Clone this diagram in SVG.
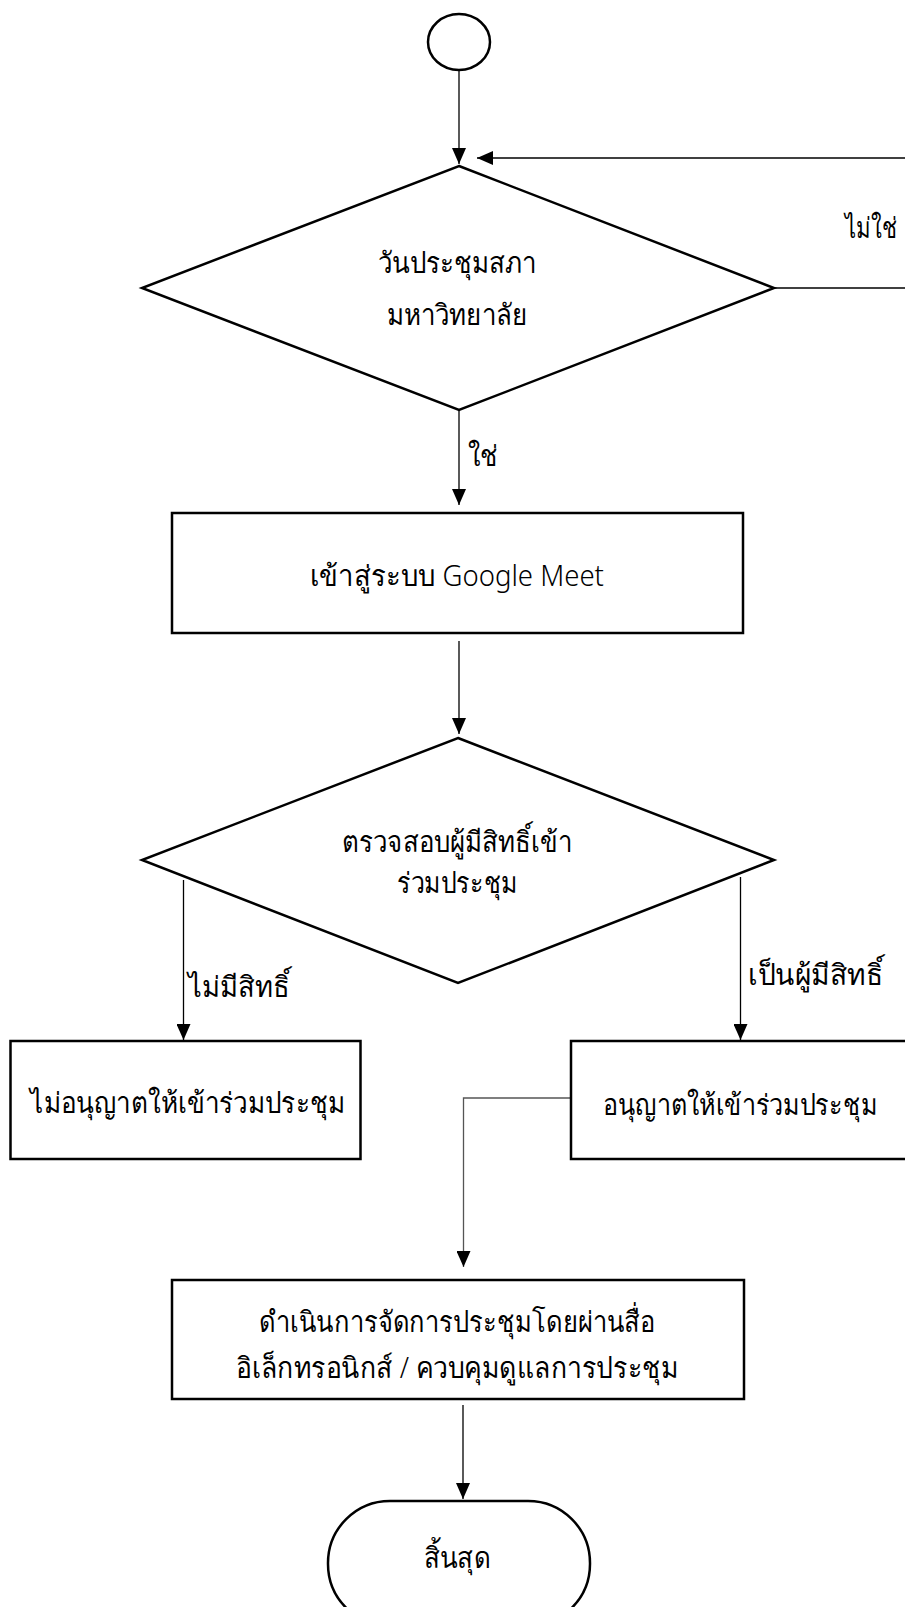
<svg xmlns="http://www.w3.org/2000/svg" width="905" height="1607" viewBox="0 0 905 1607">
<style>
.shape{fill:#fff;stroke:#000;stroke-width:2.5}
.conn{fill:none;stroke:#000;stroke-width:1.3}
.gray{stroke:#555}
text{font-family:"Noto Sans","DejaVu Sans",sans-serif;font-size:29px;font-weight:300;fill:#000;text-anchor:middle}
.lbl-l{text-anchor:start}
</style>
<defs>
<marker id="ah" markerUnits="userSpaceOnUse" markerWidth="16" markerHeight="14" refX="16" refY="7" orient="auto">
<path d="M0,0 L16,7 L0,14 z" fill="#000"/>
</marker>
</defs>
<g id="connectors">
<path class="conn" d="M459,71 V164" marker-end="url(#ah)"/>
<path class="conn" d="M774,288 H905"/>
<path class="conn" d="M905,158 H477" marker-end="url(#ah)"/>
<path class="conn" d="M459,410 V505" marker-end="url(#ah)"/>
<path class="conn" d="M459,641 V734" marker-end="url(#ah)"/>
<path class="conn" d="M183.5,880 V1040" marker-end="url(#ah)"/>
<path class="conn" d="M740.5,877 V1040" marker-end="url(#ah)"/>
<path class="conn gray" d="M571,1098 H463.5 V1267" marker-end="url(#ah)"/>
<path class="conn" d="M463,1405 V1499" marker-end="url(#ah)"/>
<text class="lbl-l" x="845" y="238" textLength="52" lengthAdjust="spacingAndGlyphs">ไม่ใช่</text>
<text class="lbl-l" x="468" y="466" textLength="30" lengthAdjust="spacingAndGlyphs">ใช่</text>
<text class="lbl-l" x="188" y="997" textLength="102" lengthAdjust="spacingAndGlyphs">ไม่มีสิทธิ์</text>
<text class="lbl-l" x="748" y="985" textLength="135" lengthAdjust="spacingAndGlyphs">เป็นผู้มีสิทธิ์</text>
</g>
<g id="start">
<ellipse class="shape" cx="459" cy="42" rx="31" ry="28"/>
</g>
<g id="decision1">
<polygon class="shape" points="459,166 774,288 459,410 142,288"/>
<text x="457" y="273" textLength="159" lengthAdjust="spacingAndGlyphs">วันประชุมสภา</text>
<text x="457" y="325" textLength="140" lengthAdjust="spacingAndGlyphs">มหาวิทยาลัย</text>
</g>
<g id="login">
<rect class="shape" x="172" y="513" width="571" height="120"/>
<text x="457" y="586" textLength="294" lengthAdjust="spacingAndGlyphs">เข้าสู่ระบบ Google Meet</text>
</g>
<g id="decision2">
<polygon class="shape" points="458,738 774,860 458,983 142,860"/>
<text x="457" y="852" textLength="230" lengthAdjust="spacingAndGlyphs">ตรวจสอบผู้มีสิทธิ์เข้า</text>
<text x="457" y="893" textLength="120" lengthAdjust="spacingAndGlyphs">ร่วมประชุม</text>
</g>
<g id="deny">
<rect class="shape" x="10.5" y="1041" width="350" height="118"/>
<text x="187.5" y="1113" textLength="315" lengthAdjust="spacingAndGlyphs">ไม่อนุญาตให้เข้าร่วมประชุม</text>
</g>
<g id="allow">
<rect class="shape" x="571" y="1041" width="345" height="118"/>
<text x="740" y="1115" textLength="274" lengthAdjust="spacingAndGlyphs">อนุญาตให้เข้าร่วมประชุม</text>
</g>
<g id="conduct">
<rect class="shape" x="172" y="1280" width="572" height="119"/>
<text x="457" y="1332" textLength="396" lengthAdjust="spacingAndGlyphs">ดำเนินการจัดการประชุมโดยผ่านสื่อ</text>
<text x="457" y="1378" textLength="442" lengthAdjust="spacingAndGlyphs">อิเล็กทรอนิกส์ / ควบคุมดูแลการประชุม</text>
</g>
<g id="end">
<rect class="shape" x="328" y="1501" width="262" height="125" rx="62" ry="62"/>
<text x="457" y="1568" textLength="67" lengthAdjust="spacingAndGlyphs">สิ้นสุด</text>
</g>
</svg>
